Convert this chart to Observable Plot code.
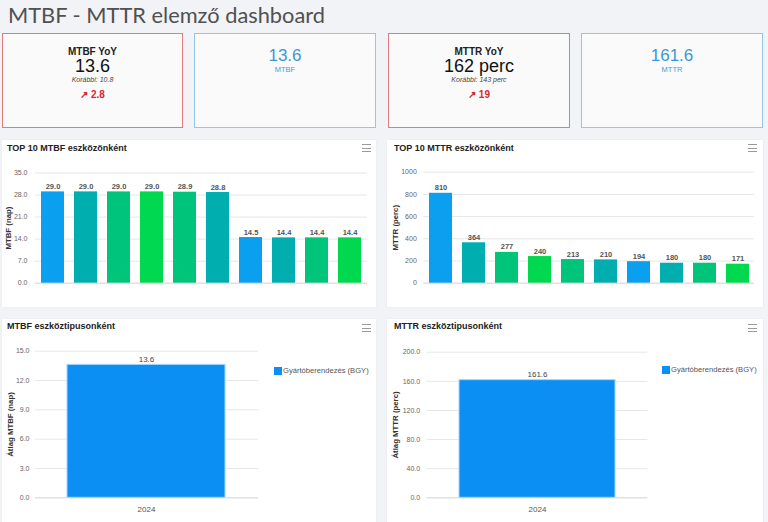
<!DOCTYPE html>
<html><head><meta charset="utf-8">
<script src="https://cdn.jsdelivr.net/npm/d3@7"></script>
<script src="https://cdn.jsdelivr.net/npm/@observablehq/plot@0.6"></script>
<style>
html,body{margin:0;padding:0}
body{width:768px;height:522px;background:#f2f3f7;font-family:"Liberation Sans",Arial,sans-serif;position:relative;overflow:hidden}
h1{position:absolute;left:8px;top:2px;margin:0;font-family:Lato,sans-serif;font-weight:normal;font-size:21.8px;line-height:25px;color:#505050;white-space:nowrap}
.card{position:absolute;top:33px;height:95px;background:#fafafa;box-sizing:border-box;border:1px solid #e27b7e}
.card.blue{border-color:#93c6e7}
.card div{position:absolute;left:0;right:0;text-align:center;white-space:nowrap}
.kt{font-weight:bold;font-size:10px;line-height:12px;top:12px;color:#222}
.kv{font-size:18px;line-height:20px;top:22px;color:#111}
.kp{font-style:italic;font-size:7px;line-height:8px;top:42px;color:#444}
.kd{font-weight:bold;font-size:10px;line-height:12px;top:55px;color:#d9272e}
.bv{font-size:17px;line-height:19px;top:12px;color:#3b97d6}
.bl{font-size:7.5px;line-height:9px;top:31px;color:#4a9ad6}
.panel{position:absolute;background:#fff;box-shadow:0 0 2px rgba(0,0,0,0.06)}
.ptitle{position:absolute;left:5px;top:3px;font-weight:bold;font-size:9px;line-height:11px;color:#222;white-space:nowrap}
.menu{position:absolute;top:4px;width:9px;height:6px;border-top:1px solid #9a9a9a;border-bottom:1px solid #9a9a9a}
.menu::after{content:"";position:absolute;left:0;right:0;top:2.5px;border-top:1px solid #9a9a9a}
.chart{position:absolute}
.chart svg{display:block;overflow:visible}
.chart g[aria-label="y-axis label"]{font-weight:bold;fill:#333;font-size:7.8px}
.leg{position:absolute;font-size:7.6px;color:#555}
.leg svg{margin-right:1px !important}
</style>
</head><body>
<h1>MTBF - MTTR elemző dashboard</h1>

<div class="card" style="left:2px;width:181px">
  <div class="kt">MTBF YoY</div><div class="kv">13.6</div>
  <div class="kp">Korábbi: 10.8</div><div class="kd">↗ 2.8</div>
</div>
<div class="card blue" style="left:194px;width:182px">
  <div class="bv">13.6</div><div class="bl">MTBF</div>
</div>
<div class="card" style="left:388px;width:182px">
  <div class="kt">MTTR YoY</div><div class="kv">162 perc</div>
  <div class="kp">Korábbi: 143 perc</div><div class="kd">↗ 19</div>
</div>
<div class="card blue" style="left:581px;width:182px">
  <div class="bv">161.6</div><div class="bl">MTTR</div>
</div>

<div class="panel" style="left:2px;top:140px;width:374px;height:167px">
  <div class="ptitle">TOP 10 MTBF eszközönként</div><div class="menu" style="left:360px"></div>
</div>
<div class="panel" style="left:387px;top:140px;width:376px;height:167px">
  <div class="ptitle" style="left:7px">TOP 10 MTTR eszközönként</div><div class="menu" style="left:361px"></div>
</div>
<div class="panel" style="left:2px;top:319px;width:374px;height:210px">
  <div class="ptitle" style="top:2px">MTBF eszköztipusonként</div><div class="menu" style="left:360px;top:5px"></div>
</div>
<div class="panel" style="left:387px;top:319px;width:376px;height:210px">
  <div class="ptitle" style="left:7px;top:2px">MTTR eszköztipusonként</div><div class="menu" style="left:361px;top:5px"></div>
</div>

<script>
// ---- data ----
const mtbfAssets = ["Eszköz 01","Eszköz 02","Eszköz 03","Eszköz 04","Eszköz 05","Eszköz 06","Eszköz 07","Eszköz 08","Eszköz 09","Eszköz 10"];
const mtbfTop = [29.0, 29.0, 29.0, 29.0, 28.9, 28.8, 14.5, 14.4, 14.4, 14.4];
const mttrAssets = ["Gép 01","Gép 02","Gép 03","Gép 04","Gép 05","Gép 06","Gép 07","Gép 08","Gép 09","Gép 10"];
const mttrTop = [810, 364, 277, 240, 213, 210, 194, 180, 180, 171];
const barPalette = ["#0aa0ef","#00aeb0","#00c47a","#00d84f","#00c47a","#00aeb0","#0aa0ef","#00aeb0","#00c47a","#00d84f"];
const mtbfTicks = [0, 7, 14, 21, 28, 35];
const mttrTicks = [0, 200, 400, 600, 800, 1000];
const years = ["2024"];
const seriesNames = ["Gyártóberendezés (BGY)"];
const mtbfByType = [13.6];
const mttrByType = [161.6];
const mtbfTypeTicks = [0, 3, 6, 9, 12, 15];
const mttrTypeTicks = [0, 40, 80, 120, 160, 200];
const seriesColor = "#0b8ff2";

const FONT = "Liberation Sans, Arial, sans-serif";

function place(el, left, top) {
  const d = document.createElement("div");
  d.className = "chart";
  d.style.left = left + "px";
  d.style.top = top + "px";
  d.appendChild(el);
  document.body.appendChild(d);
  return d;
}

function topChart(o) {
  const data = o.assets.map((a, i) => ({asset: a, value: o.values[i], color: barPalette[i]}));
  return Plot.plot({
    width: o.width, height: o.height,
    marginLeft: o.ml, marginRight: o.mr, marginTop: o.mt, marginBottom: o.mb,
    style: {background: "transparent", fontFamily: FONT, overflow: "visible"},
    x: {domain: o.assets, paddingInner: 0.3, paddingOuter: 0.15, axis: null},
    y: {domain: [o.ticks[0], o.ticks[o.ticks.length - 1]], axis: null},
    color: {type: "identity"},
    marks: [
      Plot.gridY(o.ticks, {stroke: "#e6e6e6", strokeOpacity: 1}),
      Plot.ruleY([0], {stroke: "#f1d2d4"}),
      Plot.barY(data, {x: "asset", y: "value", fill: "color"}),
      Plot.text(data, {x: "asset", y: "value", text: d => o.fmt(d.value), lineAnchor: "bottom", dy: -3,
        fontWeight: "bold", fontSize: 7.5, fill: "#555"}),
      Plot.axisY(o.ticks, {tickSize: 0, tickPadding: o.tp, tickFormat: o.fmt, fontSize: 7, fill: "#666",
        label: o.label, labelAnchor: "center", labelOffset: o.lo, labelArrow: "none"})
    ]
  });
}

function typeChart(o) {
  const data = years.map((y, i) => ({year: y, value: o.values[i], series: seriesNames[0]}));
  return Plot.plot({
    width: o.width, height: o.height,
    marginLeft: o.ml, marginRight: o.mr, marginTop: o.mt, marginBottom: o.mb,
    style: {background: "transparent", fontFamily: FONT, overflow: "visible"},
    x: {domain: years, paddingInner: 0.29, paddingOuter: 0.145, axis: null},
    y: {domain: [o.ticks[0], o.ticks[o.ticks.length - 1]], axis: null},
    marks: [
      Plot.gridY(o.ticks, {stroke: "#e6e6e6", strokeOpacity: 1}),
      Plot.ruleY([0], {stroke: "#d8dde6"}),
      Plot.barY(data, {x: "year", y: "value", fill: seriesColor, stroke: "#a6d6ff", strokeWidth: 1}),
      Plot.text(data, {x: "year", y: "value", text: d => d.value.toFixed(1), lineAnchor: "bottom", dy: -3,
        fontSize: 8, fill: "#444"}),
      Plot.axisX(years, {tickSize: 0, tickPadding: 9, fontSize: 8, fill: "#555", label: null}),
      Plot.axisY(o.ticks, {tickSize: 0, tickPadding: o.tp, tickFormat: d => d.toFixed(1), fontSize: 7, fill: "#666",
        label: o.label, labelAnchor: "center", labelOffset: o.lo, labelArrow: "none"})
    ]
  });
}

place(topChart({assets: mtbfAssets, values: mtbfTop, ticks: mtbfTicks, fmt: d => d.toFixed(1),
  label: "MTBF (nap)", width: 374, height: 167, ml: 33, mr: 9, mt: 32.5, mb: 24.3, tp: 8, lo: 30}), 2, 140);
place(topChart({assets: mttrAssets, values: mttrTop, ticks: mttrTicks, fmt: d => d.toFixed(0),
  label: "MTTR (perc)", width: 376, height: 167, ml: 36.3, mr: 9, mt: 31.7, mb: 24.3, tp: 7, lo: 31.5}), 387, 140);
place(typeChart({values: mtbfByType, ticks: mtbfTypeTicks, label: "Átlag MTBF (nap)",
  width: 374, height: 203, ml: 33, mr: 118, mt: 31.7, mb: 24.7, tp: 6, lo: 28}), 2, 319);
place(typeChart({values: mttrByType, ticks: mttrTypeTicks, label: "Átlag MTTR (perc)",
  width: 376, height: 203, ml: 39.7, mr: 115.7, mt: 32.7, mb: 24.7, tp: 7, lo: 34.5}), 387, 319);

function legend(left, top) {
  const l = Plot.legend({color: {type: "ordinal", domain: seriesNames, range: [seriesColor]},
    legend: "swatches", swatchSize: 8, style: {fontFamily: FONT, fontSize: "7.6px", color: "#555", margin: 0}});
  const d = document.createElement("div");
  d.className = "leg";
  d.style.left = left + "px";
  d.style.top = top + "px";
  d.appendChild(l);
  document.body.appendChild(d);
}
legend(274, 354);
legend(662, 353);
</script>
</body></html>
